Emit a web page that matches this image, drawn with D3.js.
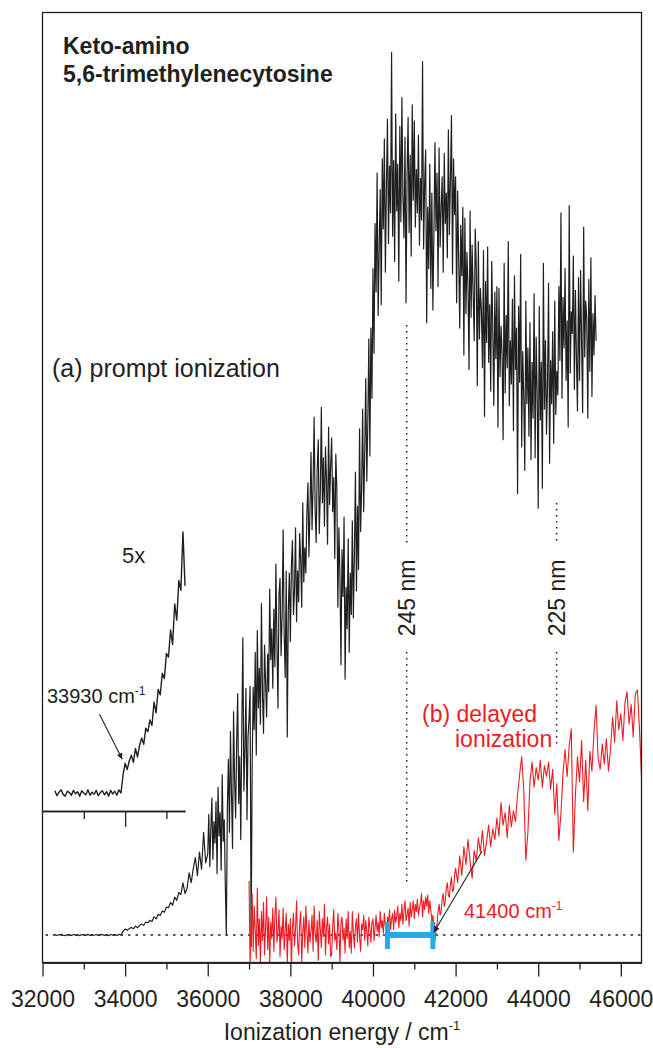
<!DOCTYPE html>
<html><head><meta charset="utf-8">
<script src="https://cdn.jsdelivr.net/npm/d3@7"></script>
<style>
html,body{margin:0;padding:0;background:#fff;}
svg{display:block;font-family:"Liberation Sans",Arial,Helvetica,sans-serif;}
</style></head><body>
<svg id="chart" width="653" height="1048"></svg>
<script>
// ---------------- DATA ----------------
const xTicksMajor = [32000, 34000, 36000, 38000, 40000, 42000, 44000, 46000];
const xTicksMinor = [33000, 35000, 37000, 39000, 41000, 43000, 45000];
const insetTicksMajor = [34000];
const insetTicksMinor = [33000, 35000];
const insetEnergyEnd = 35450;      // inset (5x) shows the trace up to here
const insetFactor = 5;

// (a) prompt ionization (arb. units, baseline = 0)
// part 1: every 50 cm-1 from 32300 cm-1
const promptStartA = 32300, promptStepA = 50;
const promptSignalA = [
  0.05,-0.06,0.02,0.07,-0.03,-0.07,0.04,0.01,-0.05,0.06,
  -0.02,0.03,-0.07,0.05,0.0,-0.04,0.07,-0.05,0.02,-0.03,
  0.06,-0.06,0.01,0.05,-0.04,0.03,-0.07,0.06,-0.02,0.04,
  -0.05,0.07,0.0,
  0.4,0.66,0.52,0.71,0.84,0.68,0.99,0.8,1.06,1.22,
  1.08,1.44,1.36,1.62,1.5,2.02,1.78,2.3,2.18,2.66,
  2.54,3.1,3.02,3.62,3.3,4.2,3.84,4.72,4.5,5.8,
  4.6,
  5.2,6.9,5.8,7.4,8.6,6.6,9.2,7.3,11.4,8.0
];
// part 2: every 25 cm-1 from 36000 cm-1
const promptStartB = 36000, promptStepB = 25;
const promptSignalB = [
  9.0,13.4,7.6,11.8,15.2,8.4,12.6,10.2,14.8,6.8,16.4,11.0,13.6,7.2,17.8,10.4,12.8,5.6,0.0,14.2,
  19.5,11.4,22.6,15.8,9.6,24.8,17.2,13.0,21.4,26.8,14.6,19.8,10.6,23.2,33.0,16.0,20.6,27.4,12.8,22.0,
  24.0,27.6,-1.3,18.6,27.5,22.8,31.4,20.0,33.8,25.2,29.6,23.4,36.8,26.8,22.4,32.2,28.0,24.2,31.2,27.0,
  38.4,30.6,34.0,27.4,36.2,29.8,41.2,32.4,25.2,37.8,39.6,31.0,35.4,45.0,33.4,28.6,40.4,22.0,36.0,40.2,
  32.6,41.0,43.8,35.6,38.2,45.2,34.8,40.4,37.0,44.6,41.6,36.4,48.0,39.2,43.0,40.2,46.8,50.2,42.0,47.4,
  53.6,45.0,49.8,57.5,47.2,43.6,51.8,55.0,44.6,49.2,58.6,48.0,53.0,45.4,54.2,50.6,43.4,56.4,47.8,52.2,
  55.2,47.0,50.8,41.8,53.4,49.6,36.4,45.2,40.0,30.0,42.8,37.6,46.4,28.4,38.6,34.0,44.0,31.4,40.2,35.6,
  46.0,35.2,42.4,51.4,38.2,47.6,40.6,56.2,44.8,49.6,58.4,47.0,53.6,61.8,50.4,57.0,66.2,53.2,67.4,59.6,
  74.0,64.6,79.0,71.4,84.6,68.8,76.2,82.8,70.0,86.2,78.4,88.4,73.6,83.0,90.6,76.8,85.4,80.2,98.0,77.6,
  86.0,74.8,91.2,80.4,85.6,72.6,89.8,79.2,93.0,82.0,77.4,88.6,70.2,84.4,90.8,78.0,86.6,75.4,92.2,81.6,
  90.4,78.6,85.0,80.2,88.8,76.6,84.0,79.4,97.0,76.2,83.4,87.2,68.0,80.8,74.0,85.6,71.8,82.4,69.4,78.0,
  88.0,78.2,84.6,72.0,87.4,76.4,80.6,84.2,73.6,86.8,79.0,82.4,75.2,89.4,77.8,84.0,91.0,73.4,86.2,80.0,
  84.2,70.2,82.6,75.0,67.4,78.8,73.2,80.8,64.4,79.6,69.0,75.8,72.0,62.8,80.4,68.6,76.6,71.2,66.0,78.4,
  74.2,61.0,77.0,66.2,71.8,69.4,63.0,76.0,57.6,72.6,65.8,76.4,63.6,70.0,60.4,74.8,67.2,58.8,71.4,64.0,
  72.0,56.4,71.8,62.0,67.6,64.4,55.0,74.6,60.2,68.8,63.0,77.0,58.8,66.0,61.2,70.6,56.0,73.2,62.8,67.4,
  49.0,69.8,61.4,75.6,54.2,64.8,59.6,51.6,70.4,59.0,65.2,55.4,68.0,52.8,63.6,57.4,71.2,53.0,66.4,60.2,
  47.4,69.8,57.2,63.6,49.6,74.6,58.4,66.0,55.6,61.2,72.4,52.4,63.8,59.0,67.0,54.6,70.4,57.8,62.6,60.0,
  72.0,63.8,80.2,59.6,70.8,65.2,74.0,61.6,68.2,56.4,81.0,62.4,69.2,66.8,75.4,60.6,71.6,64.0,58.2,73.0,
  61.6,73.8,66.0,58.0,78.6,64.2,70.4,68.4,57.4,72.8,62.6,75.2,59.8,69.0,64.4,71.0,66.0
];

// (b) delayed ionization
// part 1: every 25 cm-1 from 37000 cm-1
const delayedStartA = 37000, delayedStepA = 25;
const delayedSignalA = [
  6.0,-3.4,1.2,4.6,-1.8,3.2,0.4,-2.6,5.2,-1.2,1.8,-3.0,2.6,-0.6,3.6,-2.2,0.8,4.2,-1.6,2.0,
  -3.0,1.4,-0.4,3.0,-1.8,2.2,4.2,-0.8,0.2,2.8,-2.4,1.0,-0.4,3.0,-1.6,0.6,2.4,-3.2,1.2,-0.6,
  1.8,-3.6,0.8,2.4,-1.2,0.6,3.8,-1.0,-2.2,1.2,2.6,-3.0,0.2,2.0,-1.4,3.2,0.4,-2.0,1.6,-0.8,
  0.4,2.2,-1.8,3.2,0.0,-0.8,1.6,-2.8,2.6,0.6,-1.4,1.8,-0.2,3.4,-2.2,0.8,2.0,-1.0,1.2,-2.4,
  -2.2,1.0,2.8,-0.6,0.2,-1.6,2.4,0.6,-3.0,1.4,2.0,-0.6,0.8,-2.0,1.8,-0.4,2.6,-1.4,0.4,-2.0,
  2.6,0.2,-1.4,1.0,1.8,-0.8,2.4,-0.2,-1.8,1.2,0.6,2.2,-0.6,1.6,0.4,-1.2,2.0,0.8,-0.8,1.4,
  1.8,-0.6,0.8,2.2,0.4,1.4,-0.2,2.6,0.8,1.6,0.2,2.4,1.0,-0.4,2.0,1.2,2.8,0.6,1.8,2.4,
  0.6,2.8,1.4,2.0,3.2,0.8,2.4,1.6,3.4,1.2,2.6,3.8,1.6,2.2,3.0,1.0,3.6,2.0,2.8,3.8,
  1.8,3.4,2.6,4.0,2.2,3.0,3.6,4.6,2.0,3.8,2.8,4.2,3.2,4.4,2.4,3.8,2.8,1.4,2.2,0.8,
  -0.6,0.4,1.2,2.6,3.4,2.2,2.6,4.0,4.6,3.2,3.8,5.2,5.8,4.4,4.2,5.6,6.4,4.8,5.0,6.6
];
// part 2: every 50 cm-1 from 42000 cm-1
const delayedStartB = 42000, delayedStepB = 50;
const delayedSignalB = [
  7.4,5.8,8.8,6.6,9.8,7.8,10.6,8.2,6.3,9.4,
  8.2,10.8,9.2,11.6,8.8,10.4,12.2,9.8,11.8,10.6,
  13.0,11.0,14.7,12.2,13.6,10.8,14.4,12.0,13.8,12.6,
  15.6,17.8,19.8,16.0,8.3,11.4,17.0,19.2,16.4,18.6,
  17.2,19.4,16.4,18.8,17.6,19.2,16.2,18.4,13.4,16.8,
  10.5,13.5,18.0,20.6,17.6,21.0,22.9,9.2,15.5,19.8,
  17.0,21.6,14.8,19.4,13.8,20.4,18.2,22.6,25.5,19.6,
  18.4,21.2,19.0,21.8,18.2,20.6,24.2,21.4,26.0,22.8,
  24.6,21.6,25.8,27.0,23.4,25.6,22.0,26.8,27.2,23.0,
  17.5
];

const wavelengthsNm = [245, 225];
const onsetPrompt = 33930;   // cm-1
const onsetDelayed = 41400;  // cm-1
const bracketRange = [40350, 41450];

// ---------------- LAYOUT ----------------
const svg = d3.select("#chart");
const M = {left: 42.5, right: 641.5, top: 12.5, bottom: 962.5};
const ink = "#231f20", red = "#ed1c24", cyan = "#27a9e1";

const x = d3.scaleLinear().domain([32000, 46500]).range([M.left, M.right]);
const y = d3.scaleLinear().domain([-3, 102.5]).range([962, 12]);
const insetBase = 793;
const yInset = d3.scaleLinear().domain([0, 1]).range([insetBase, insetBase - (y(0) - y(1)) * insetFactor]);

const series = (arr, start, step) => arr.map((v, i) => ({e: start + i * step, v}));
const prompt = series(promptSignalA, promptStartA, promptStepA)
  .concat(series(promptSignalB, promptStartB, promptStepB));
const delayed = series(delayedSignalA, delayedStartA, delayedStepA)
  .concat(series(delayedSignalB, delayedStartB, delayedStepB));

const defs = svg.append("defs");
defs.append("clipPath").attr("id", "plotclip").append("rect")
  .attr("x", M.left).attr("y", M.top).attr("width", M.right - M.left).attr("height", M.bottom - M.top);
defs.append("marker").attr("id", "arrow").attr("viewBox", "0 0 10 10")
  .attr("refX", 10).attr("refY", 5).attr("markerWidth", 7).attr("markerHeight", 6)
  .attr("markerUnits", "userSpaceOnUse").attr("orient", "auto")
  .append("path").attr("d", "M0,0 L10,5 L0,10 z").attr("fill", ink);

// baseline
svg.append("line").attr("x1", M.left + 3).attr("x2", M.right).attr("y1", y(0)).attr("y2", y(0))
  .attr("stroke", ink).attr("stroke-width", 1.4).attr("stroke-dasharray", "2.5,5");

// dotted wavelength lines
const wlLayout = {245: {segs: [[325, 545], [652, 882]]}, 225: {segs: [[503, 545], [652, 745]]}};
const labelY = 598;
wavelengthsNm.forEach(nm => {
  const xe = x(1e7 / nm);
  wlLayout[nm].segs.forEach(s => {
    svg.append("line").attr("x1", xe).attr("x2", xe).attr("y1", s[0]).attr("y2", s[1])
      .attr("stroke", ink).attr("stroke-width", 1.5).attr("stroke-dasharray", "1.5,4.5");
  });
  svg.append("text").attr("transform", `translate(${xe + 8},${labelY}) rotate(-90)`)
    .attr("text-anchor", "middle").attr("font-size", 23).attr("fill", ink).text(`${nm} nm`);
});

// traces
const line = d3.line().x(d => x(d.e)).y(d => y(d.v));
const plot = svg.append("g").attr("clip-path", "url(#plotclip)");
plot.append("path").datum(prompt).attr("d", line).attr("fill", "none")
  .attr("stroke", ink).attr("stroke-width", 1.2).attr("stroke-linejoin", "round");
plot.append("path").datum(delayed).attr("d", line).attr("fill", "none")
  .attr("stroke", red).attr("stroke-width", 1.1).attr("stroke-linejoin", "round");

// inset (5x)
const insetLine = d3.line().x(d => x(d.e)).y(d => yInset(d.v));
svg.append("path").datum(prompt.filter(d => d.e <= insetEnergyEnd)).attr("d", insetLine)
  .attr("fill", "none").attr("stroke", ink).attr("stroke-width", 1.4).attr("stroke-linejoin", "round");
const xInsetAxis = d3.scaleLinear().domain([32000, insetEnergyEnd]).range([x(32000), x(insetEnergyEnd)]);
const insetAxisY = 811;
const ia1 = svg.append("g").attr("transform", `translate(0,${insetAxisY})`)
  .call(d3.axisBottom(xInsetAxis).tickValues(insetTicksMajor).tickSize(16).tickSizeOuter(0).tickFormat(""));
const ia2 = svg.append("g").attr("transform", `translate(0,${insetAxisY})`)
  .call(d3.axisBottom(xInsetAxis).tickValues(insetTicksMinor).tickSize(8).tickSizeOuter(0).tickFormat(""));
[ia1, ia2].forEach(g => { g.selectAll("path,line").attr("stroke", ink).attr("stroke-width", 1.3); });

// bracket
const by = y(0);
svg.append("line").attr("x1", x(bracketRange[0])).attr("x2", x(bracketRange[1]))
  .attr("y1", by).attr("y2", by).attr("stroke", cyan).attr("stroke-width", 6);
bracketRange.forEach(e => {
  svg.append("rect").attr("x", x(e) - 2.5).attr("y", by - 13).attr("width", 5).attr("height", 27).attr("fill", cyan);
});

// arrows
svg.append("line").attr("x1", x(42640)).attr("y1", y(9.3)).attr("x2", x(bracketRange[1]) + 1).attr("y2", y(0.3))
  .attr("stroke", ink).attr("stroke-width", 1.1).attr("marker-end", "url(#arrow)");
svg.append("line").attr("x1", x(33380)).attr("y1", yInset(1.75)).attr("x2", x(onsetPrompt)).attr("y2", yInset(0.75))
  .attr("stroke", ink).attr("stroke-width", 1.1).attr("marker-end", "url(#arrow)");

// frame
svg.append("rect").attr("x", M.left).attr("y", M.top).attr("width", M.right - M.left).attr("height", M.bottom - M.top)
  .attr("fill", "none").attr("stroke", ink).attr("stroke-width", 1.3);

// main axis
const axMajor = svg.append("g").attr("transform", `translate(0,${M.bottom})`)
  .call(d3.axisBottom(x).tickValues(xTicksMajor).tickSize(14).tickSizeOuter(0).tickPadding(14).tickFormat(d3.format("d")));
const axMinor = svg.append("g").attr("transform", `translate(0,${M.bottom})`)
  .call(d3.axisBottom(x).tickValues(xTicksMinor).tickSize(7).tickSizeOuter(0).tickFormat(""));
[axMajor, axMinor].forEach(g => {
  g.selectAll("path,line").attr("stroke", ink).attr("stroke-width", 1.3);
  g.selectAll("text").attr("font-size", 23).attr("fill", ink).attr("font-family", '"Liberation Sans",Arial,sans-serif');
});

// texts
function sup(sel, base, s, size, supSize) {
  sel.append("tspan").text(base);
  sel.append("tspan").attr("font-size", supSize).attr("dy", -size * 0.42).text(s);
}
svg.append("text").attr("x", 63).attr("y", 54).attr("font-size", 23).attr("font-weight", "bold").attr("fill", ink).text("Keto-amino");
svg.append("text").attr("x", 63).attr("y", 82).attr("font-size", 23).attr("font-weight", "bold").attr("fill", ink).text("5,6-trimethylenecytosine");
svg.append("text").attr("x", 52).attr("y", 377).attr("font-size", 25).attr("fill", ink).text("(a) prompt ionization");
svg.append("text").attr("x", 122).attr("y", 563).attr("font-size", 22).attr("fill", ink).text("5x");
sup(svg.append("text").attr("x", 47).attr("y", 703).attr("font-size", 20).attr("fill", ink), "33930 cm", "-1", 20, 12);
svg.append("text").attr("x", 422).attr("y", 722).attr("font-size", 23).attr("fill", red).text("(b) delayed");
svg.append("text").attr("x", 455).attr("y", 747).attr("font-size", 23).attr("fill", red).text("ionization");
sup(svg.append("text").attr("x", 464).attr("y", 918).attr("font-size", 20).attr("fill", red), "41400 cm", "-1", 20, 12);
sup(svg.append("text").attr("x", (M.left + M.right) / 2).attr("y", 1040).attr("text-anchor", "middle")
  .attr("font-size", 23).attr("fill", ink), "Ionization energy / cm", "-1", 23, 13);
</script>
</body></html>
